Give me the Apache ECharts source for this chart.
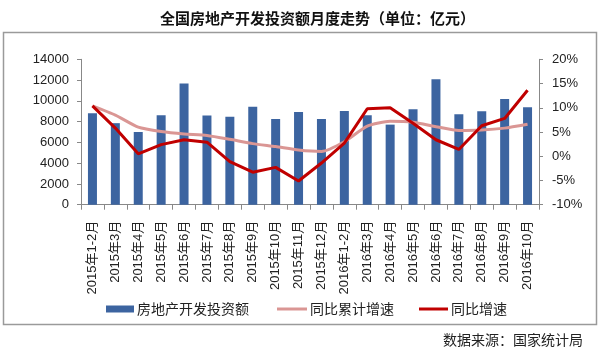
<!DOCTYPE html>
<html>
<head>
<meta charset="utf-8">
<script src="https://cdn.jsdelivr.net/npm/echarts@6/dist/echarts.min.js"></script>
<style>html,body{margin:0;padding:0;background:#fff}#c{width:600px;height:354px}</style>
</head>
<body>
<div id="c"></div>
<script>
const categories = ['2015年1-2月','2015年3月','2015年4月','2015年5月','2015年6月','2015年7月','2015年8月','2015年9月','2015年10月','2015年11月','2015年12月','2016年1-2月','2016年3月','2016年4月','2016年5月','2016年6月','2016年7月','2016年8月','2016年9月','2016年10月'];
const investment = [8800, 7850, 7000, 8610, 11660, 8580, 8480, 9440, 8260, 8930, 8260, 9030, 8610, 7710, 9190, 12080, 8710, 9000, 10180, 9390];
const cumulativeGrowth = [10.4, 8.5, 6.0, 5.1, 4.6, 4.3, 3.5, 2.6, 2.0, 1.3, 1.0, 3.0, 6.2, 7.2, 7.0, 6.1, 5.3, 5.4, 5.8, 6.6];
const monthlyGrowth = [10.4, 5.8, 0.5, 2.4, 3.4, 2.9, -1.1, -3.3, -2.3, -5.1, -1.4, 2.7, 9.8, 10.0, 6.8, 3.4, 1.4, 6.3, 7.8, 13.6];
const leftTicks = {min: 0, max: 14000, interval: 2000};
const rightTicks = {min: -10, max: 20, interval: 5};

const FONT = '"Liberation Sans", "Noto Sans CJK SC", sans-serif';
const chart = echarts.init(document.getElementById('c'));
const axisLine = {show: true, lineStyle: {color: '#888', width: 1}};
const legendBase = {top: 297, textStyle: {fontSize: 14, color: '#222', fontFamily: '"Noto Sans CJK SC", serif', padding: [0, 0, 0, -2]}, icon: 'rect', itemGap: 0};
chart.setOption({
  animation: false,
  textStyle: {fontFamily: FONT},
  title: {text: '全国房地产开发投资额月度走势（单位：亿元）', left: 155, top: 6,
    textStyle: {fontSize: 15, fontWeight: 'bold', color: '#111', fontFamily: '"Noto Sans CJK SC", sans-serif'}},
  graphic: [
    {type: 'rect', shape: {x: 3.5, y: 32.5, width: 593, height: 292}, style: {fill: 'none', stroke: '#9a9a9a', lineWidth: 1.5}, z: -1},
    {type: 'text', right: 17, top: 333, style: {text: '数据来源：国家统计局', fontSize: 14, fill: '#222', fontFamily: '"Noto Sans CJK SC", sans-serif'}}
  ],
  legend: [
    Object.assign({}, legendBase, {left: 101, itemWidth: 28, itemHeight: 7, data: ['房地产开发投资额']}),
    Object.assign({}, legendBase, {left: 272, itemWidth: 30, itemHeight: 3, data: ['同比累计增速']}),
    Object.assign({}, legendBase, {left: 414, itemWidth: 29, itemHeight: 3, data: ['同比增速']})
  ],
  grid: {left: 81, right: 61, top: 59.3, bottom: 149.3, containLabel: false},
  xAxis: {
    type: 'category', data: categories, boundaryGap: true,
    axisLine: axisLine,
    axisTick: {show: true, inside: false, length: 5, lineStyle: {color: '#888'}},
    axisLabel: {rotate: 90, margin: 16, fontSize: 13, color: '#222', interval: 0, fontFamily: FONT}
  },
  yAxis: [
    {type: 'value', min: leftTicks.min, max: leftTicks.max, interval: leftTicks.interval,
     axisLine: axisLine, axisTick: {show: true, length: 4, lineStyle: {color: '#888'}}, splitLine: {show: false},
     axisLabel: {fontSize: 13, color: '#222', margin: 12, formatter: function (v) { return String(v); }}},
    {type: 'value', min: rightTicks.min, max: rightTicks.max, interval: rightTicks.interval, position: 'right',
     axisLine: axisLine, axisTick: {show: true, length: 4, lineStyle: {color: '#888'}}, splitLine: {show: false},
     axisLabel: {fontSize: 13, color: '#222', margin: 13, formatter: '{value}%'}}
  ],
  series: [
    {name: '房地产开发投资额', type: 'bar', data: investment, barWidth: 9, itemStyle: {color: '#3C64A0'}, yAxisIndex: 0},
    {name: '同比累计增速', type: 'line', data: cumulativeGrowth, yAxisIndex: 1, symbol: 'none', smooth: 0.2,
     lineStyle: {color: '#DA9694', width: 3}, itemStyle: {color: '#DA9694'}},
    {name: '同比增速', type: 'line', data: monthlyGrowth, yAxisIndex: 1, symbol: 'none',
     lineStyle: {color: '#C00000', width: 3}, itemStyle: {color: '#C00000'}}
  ]
});
</script>
</body>
</html>
